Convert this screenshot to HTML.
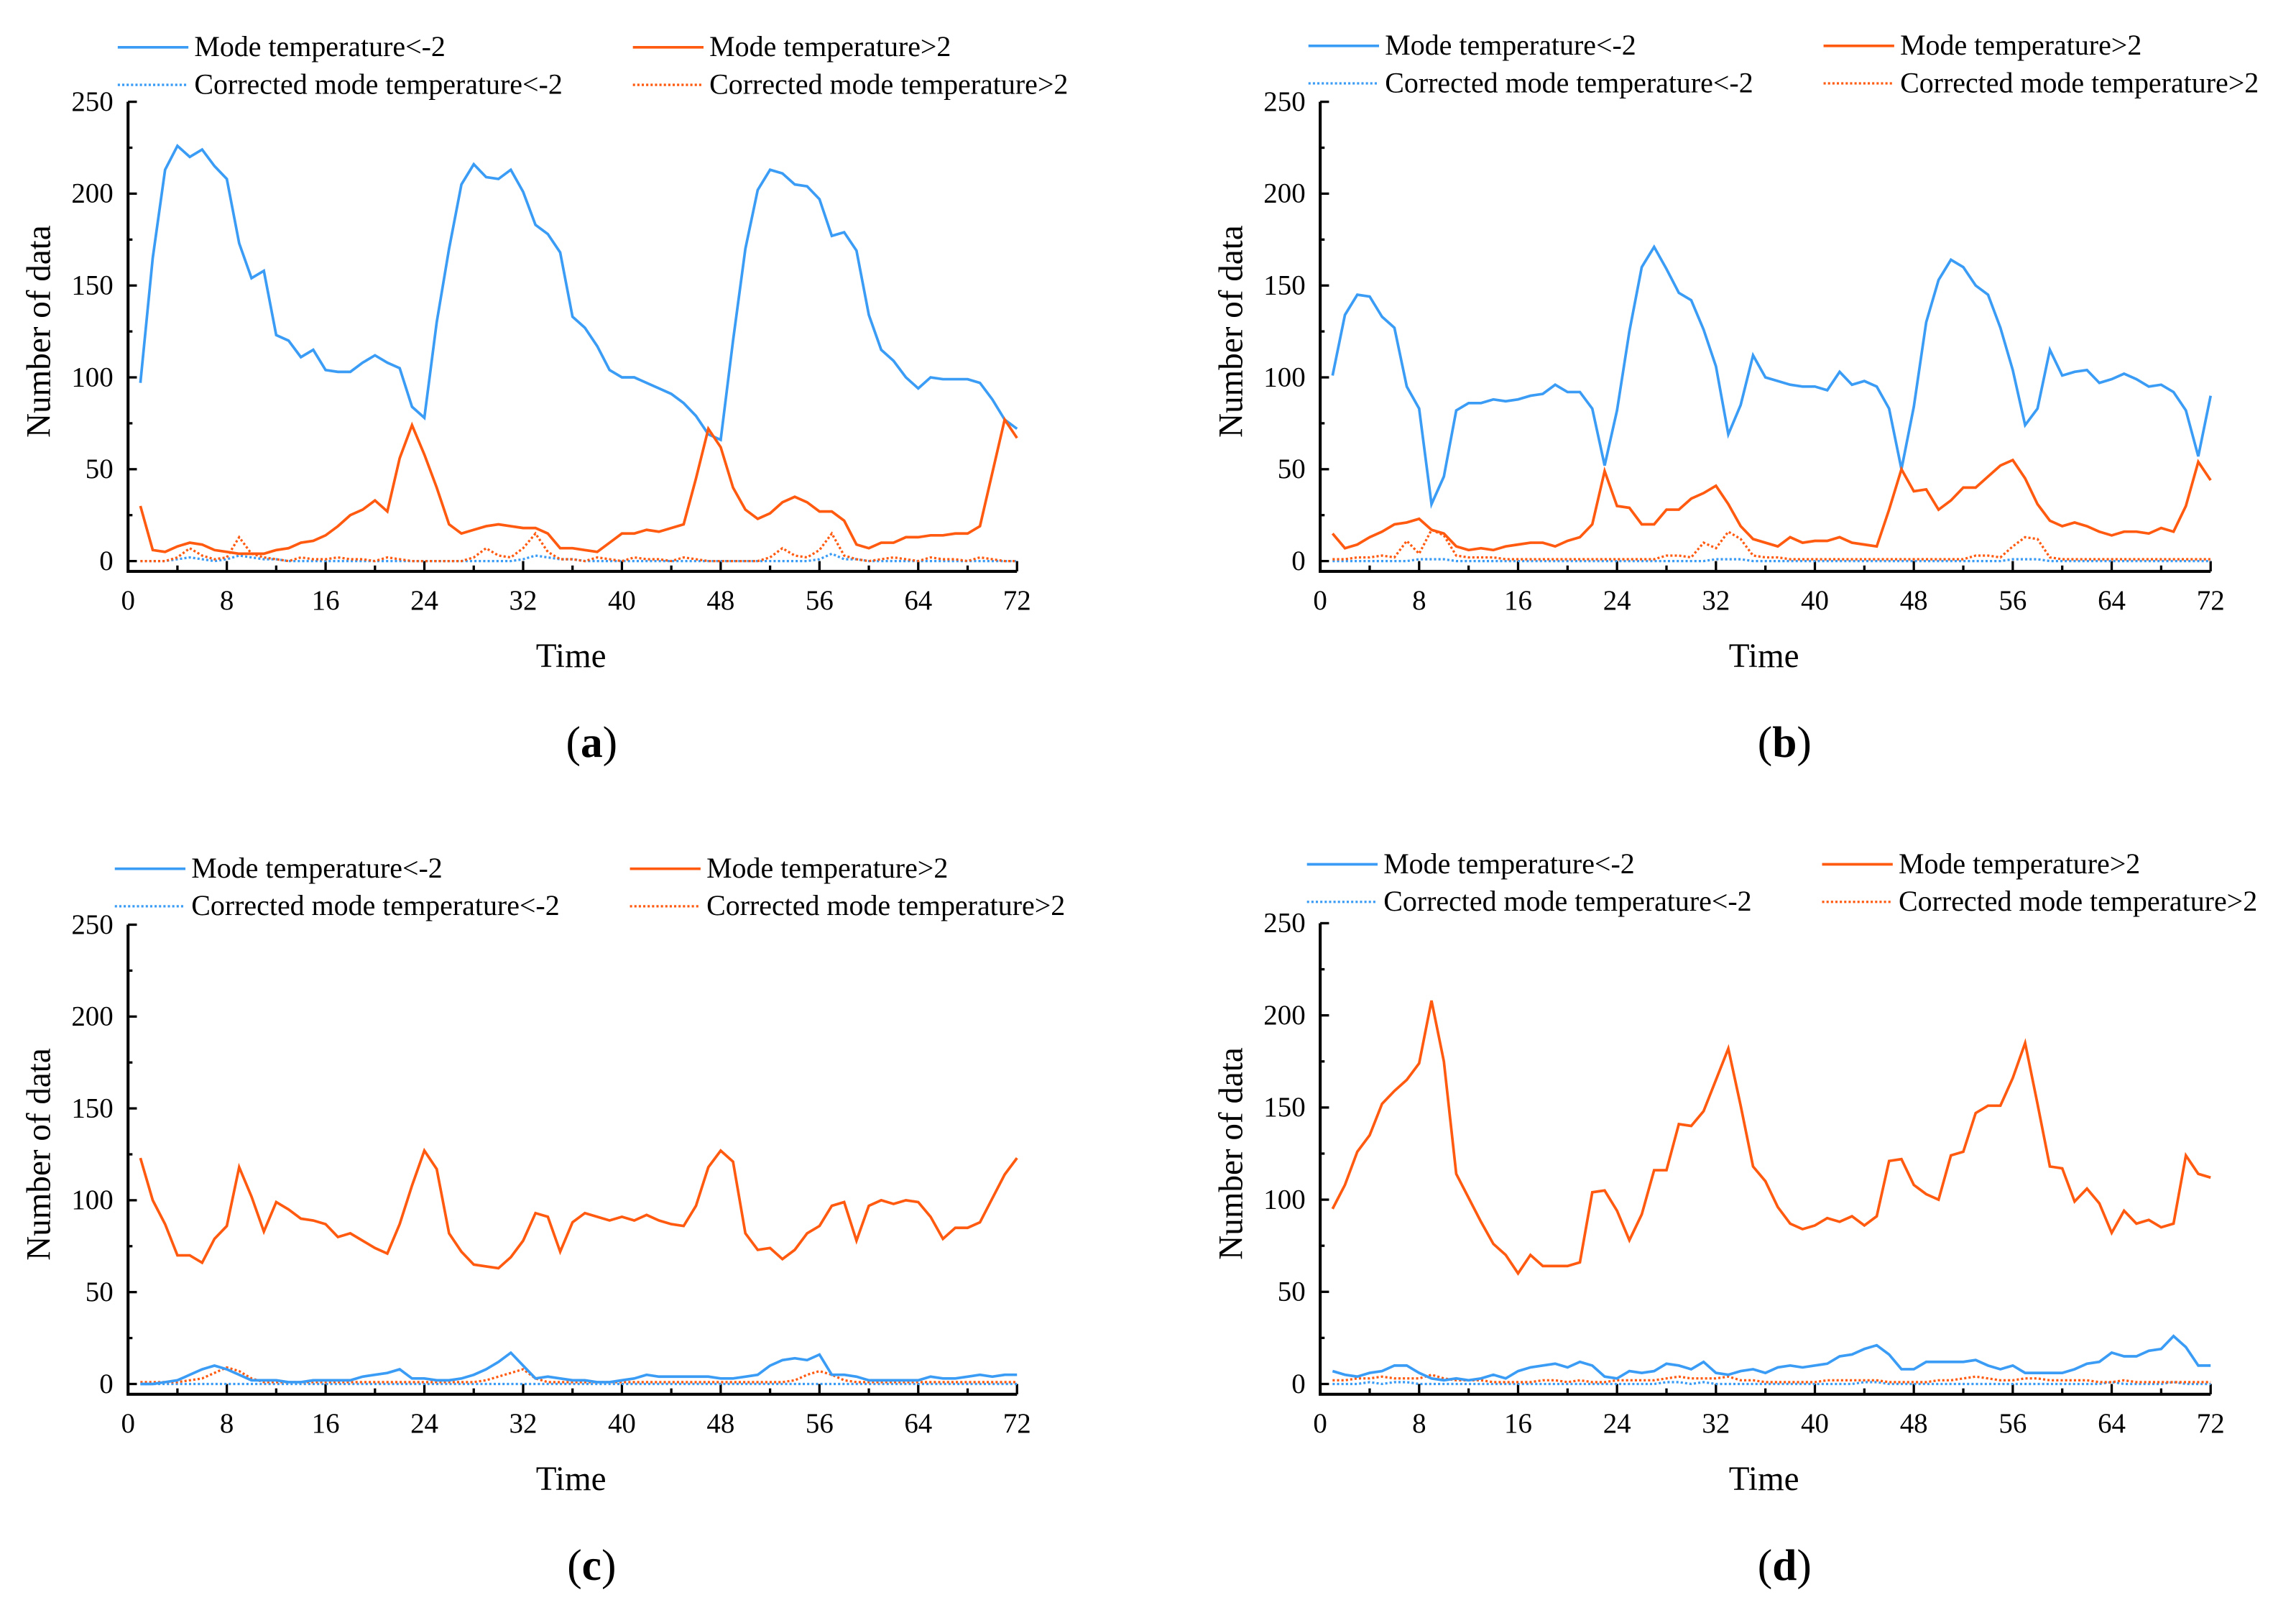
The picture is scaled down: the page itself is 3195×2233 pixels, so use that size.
<!DOCTYPE html>
<html><head><meta charset="utf-8">
<style>
html,body{margin:0;padding:0;background:#fff;}
svg{display:block;}
svg text{font-family:"Liberation Serif","Times New Roman","DejaVu Serif",serif;}
</style></head>
<body>
<svg id="fig" width="3195" height="2233" viewBox="0 0 1560 1090" font-family="Liberation Serif, serif" xmlns="http://www.w3.org/2000/svg"></svg>
<script>
const timeCategories = Array.from({length:72},(_,i)=>i+1);
const xTicks = [0,8,16,24,32,40,48,56,64,72];
const yTicks = [0,50,100,150,200,250];

const aBlue = [97,165,213,226,220,224,215,208,173,154,158,123,120,111,115,104,103,103,108,112,108,105,84,78,130,170,205,216,209,208,213,201,183,178,168,133,127,117,104,100,100,97,94,91,86,79,69,66,120,170,202,213,211,205,204,197,177,179,169,134,115,109,100,94,100,99,99,99,97,88,77,72];
const aOrange = [30,6,5,8,10,9,6,5,4,4,4,6,7,10,11,14,19,25,28,33,27,56,74,58,40,20,15,17,19,20,19,18,18,15,7,7,6,5,10,15,15,17,16,18,20,45,72,62,40,28,23,26,32,35,32,27,27,22,9,7,10,10,13,13,14,14,15,15,19,48,77,67];
const aCorrBlue = [0,0,0,1,2,1,0,1,3,2,1,1,0,0,0,0,0,0,0,0,0,0,0,0,0,0,0,0,0,0,0,1,3,2,1,1,0,0,0,0,0,0,0,0,0,0,0,0,0,0,0,0,0,0,0,1,4,1,1,0,0,0,0,0,0,0,0,0,0,0,0,0];
const aCorrOrange = [0,0,0,2,7,3,1,2,13,4,2,1,0,2,1,1,2,1,1,0,2,1,0,0,0,0,0,2,7,3,2,7,15,5,1,1,0,2,1,0,2,1,1,0,2,1,0,0,0,0,0,2,7,3,2,6,15,3,1,0,1,2,1,0,2,1,1,0,2,1,0,0];

const bBlue = [101,134,145,144,133,127,95,83,31,46,82,86,86,88,87,88,90,91,96,92,92,83,52,82,125,160,171,159,146,142,126,106,69,85,112,100,98,96,95,95,93,103,96,98,95,83,50,84,130,153,164,160,150,145,127,104,74,83,115,101,103,104,97,99,102,99,95,96,92,82,57,90];
const bOrange = [15,7,9,13,16,20,21,23,17,15,8,6,7,6,8,9,10,10,8,11,13,20,49,30,29,20,20,28,28,34,37,41,31,19,12,10,8,13,10,11,11,13,10,9,8,28,50,38,39,28,33,40,40,46,52,55,45,31,22,19,21,19,16,14,16,16,15,18,16,30,54,44];
const bCorrBlue = [0,0,0,0,0,0,0,1,1,1,0,0,0,0,0,0,0,0,0,0,0,0,0,0,0,0,0,0,0,0,0,1,1,1,0,0,0,0,0,0,0,0,0,0,0,0,0,0,0,0,0,0,0,0,0,1,1,1,0,0,0,0,0,0,0,0,0,0,0,0,0,0];
const bCorrOrange = [1,1,2,2,3,2,11,4,17,14,3,2,2,2,1,1,1,1,1,1,1,1,1,1,1,1,1,3,3,2,10,7,16,12,3,2,2,1,1,1,1,1,1,1,1,1,1,1,1,1,1,1,3,3,2,8,13,12,2,1,1,1,1,1,1,1,1,1,1,1,1,1];

const cBlue = [0,0,1,2,5,8,10,8,5,2,2,2,1,1,2,2,2,2,4,5,6,8,3,3,2,2,3,5,8,12,17,10,3,4,3,2,2,1,1,2,3,5,4,4,4,4,4,3,3,4,5,10,13,14,13,16,5,5,4,2,2,2,2,2,4,3,3,4,5,4,5,5];
const cOrange = [123,100,87,70,70,66,79,86,118,102,83,99,95,90,89,87,80,82,78,74,71,87,108,127,117,82,72,65,64,63,69,78,93,91,72,88,93,91,89,91,89,92,89,87,86,97,118,127,121,82,73,74,68,73,82,86,97,99,78,97,100,98,100,99,91,79,85,85,88,101,114,123];
const cCorrBlue = [0,0,0,0,0,0,0,0,0,0,0,0,0,0,0,0,0,0,0,0,0,0,0,0,0,0,0,0,0,0,0,0,0,0,0,0,0,0,0,0,0,0,0,0,0,0,0,0,0,0,0,0,0,0,0,0,0,0,0,0,0,0,0,0,0,0,0,0,0,0,0,0];
const cCorrOrange = [1,1,1,1,2,3,6,9,7,3,1,1,1,1,1,1,1,1,1,1,1,1,1,1,1,1,1,1,2,4,6,8,3,1,1,1,1,1,1,1,1,1,1,1,1,1,1,1,1,1,1,1,1,2,5,7,5,2,1,1,1,1,1,1,1,1,1,1,1,1,1,1];

const dBlue = [7,5,4,6,7,10,10,6,3,2,3,2,3,5,3,7,9,10,11,9,12,10,4,3,7,6,7,11,10,8,12,6,5,7,8,6,9,10,9,10,11,15,16,19,21,16,8,8,12,12,12,12,13,10,8,10,6,6,6,6,8,11,12,17,15,15,18,19,26,20,10,10];
const dOrange = [95,108,126,135,152,159,165,174,208,175,114,101,88,76,70,60,70,64,64,64,66,104,105,94,78,92,116,116,141,140,148,165,182,151,118,110,96,87,84,86,90,88,91,86,91,121,122,108,103,100,124,126,147,151,151,166,185,152,118,117,99,106,98,82,94,87,89,85,87,124,114,112];
const dCorrBlue = [0,0,0,1,0,1,1,0,0,0,0,0,0,0,0,0,0,0,0,0,0,0,0,0,0,0,0,1,1,0,1,0,0,0,0,0,0,0,0,0,0,0,0,1,1,0,0,0,0,0,0,0,0,0,0,0,0,0,0,0,0,0,0,1,0,0,0,0,1,0,0,0];
const dCorrOrange = [2,2,3,3,4,3,3,3,5,3,2,2,2,1,1,1,1,2,2,1,2,1,1,2,2,2,2,3,4,3,3,3,4,2,2,1,1,1,1,1,2,2,2,2,2,1,1,1,1,2,2,3,4,3,2,2,3,3,2,2,2,2,1,1,2,1,1,1,1,1,1,1];

const NS="http://www.w3.org/2000/svg";
const svg=document.getElementById('fig');
const BLUE="#3b9cf5", ORANGE="#ff5a0f";
const FONT='"Liberation Serif", serif';
function el(tag,attrs,parent,text){const e=document.createElementNS(NS,tag);for(const k in attrs)e.setAttribute(k,attrs[k]);if(tag==='text')e.style.fontFamily=FONT;if(text!==undefined)e.textContent=text;(parent||svg).appendChild(e);return e;}

const panels=[
 {id:'a',left:87,right:691,y0:381,y250:69,axisY:388,legY:32,legX:80,series:[aBlue,aOrange,aCorrBlue,aCorrOrange]},
 {id:'b',left:897,right:1502,y0:381,y250:69,axisY:388,legY:31,legX:889,series:[bBlue,bOrange,bCorrBlue,bCorrOrange]},
 {id:'c',left:87,right:691,y0:940,y250:628,axisY:947,legY:590,legX:78,series:[cBlue,cOrange,cCorrBlue,cCorrOrange]},
 {id:'d',left:897,right:1502,y0:940,y250:627,axisY:947,legY:587,legX:888,series:[dBlue,dOrange,dCorrBlue,dCorrOrange]}
];

panels.forEach(p=>{
 const g=el('g',{});
 
 
 const xs=t=>p.left+(p.right-p.left)*t/72;
 const ys=v=>p.y0-(p.y0-p.y250)*v/250;
 const ax=el('path',{d:`M${p.left} ${p.y250}V${p.axisY}H${p.right}`,stroke:'#000','stroke-width':2,fill:'none'},g);
 
 
 for(let v=0;v<=250;v+=25){
  const major=v%50===0;
  el('line',{x1:p.left,x2:p.left+(major?6:3),y1:ys(v),y2:ys(v),stroke:'#000','stroke-width':1.6},g);
 }
 yTicks.forEach(v=>{
  const t=el('text',{x:p.left-10,y:ys(v)+6,'text-anchor':'end','font-size':19},g,String(v));
  
  
 });
 for(let v=0;v<=72;v+=4){
  const major=v%8===0;
  el('line',{x1:xs(v),x2:xs(v),y1:p.axisY,y2:p.axisY-(major?7:4),stroke:'#000','stroke-width':1.6},g);
 }
 xTicks.forEach(v=>{
  const t=el('text',{x:xs(v),y:p.axisY+26,'text-anchor':'middle','font-size':19},g,String(v));
  
  
 });
 const yt=el('text',{x:0,y:0,transform:`translate(${p.left-53},${(p.y0+p.y250)/2}) rotate(-90)`,'text-anchor':'middle','font-size':23},g,'Number of data');
 
 
 const xt=el('text',{x:(p.left+p.right)/2-1,y:p.axisY+65,'text-anchor':'middle','font-size':23},g,'Time');
 
 
 const cap=el('text',{x:(p.left+p.right)/2+13,y:p.axisY+126,'text-anchor':'middle','font-size':30},g);
 
 
 el('tspan',{},cap,'(');el('tspan',{'font-weight':'bold'},cap,p.id);el('tspan',{},cap,')');
 const styles=[[BLUE,''],[ORANGE,''],[BLUE,'1.5 1.5'],[ORANGE,'1.5 1.5']];
 const names=['mode-temp-below-minus2-line','mode-temp-above-2-line','corrected-below-minus2-line','corrected-above-2-line'];
 [2,3,0,1].forEach(i=>{
  const d=p.series[i].map((v,k)=>(k?'L':'M')+xs(timeCategories[k]).toFixed(2)+' '+ys(v).toFixed(2)).join('');
  const path=el('path',{d,stroke:styles[i][0],'stroke-width':i<2?1.8:1.6,fill:'none','stroke-dasharray':styles[i][1]||'none'},g);
  
  
 });
 const labels=['Mode temperature<-2','Mode temperature>2','Corrected mode temperature<-2','Corrected mode temperature>2'];
 labels.forEach((lab,i)=>{
  const col=i%2,row=Math.floor(i/2);
  const lx=p.legX+col*350, ly=p.legY+row*25.5;
  const lg=el('g',{},g);
  
  
  el('line',{x1:lx,x2:lx+48,y1:ly,y2:ly,stroke:col?ORANGE:BLUE,'stroke-width':i<2?1.8:1.6,'stroke-dasharray':i<2?'none':'1.5 1.5'},lg);
  el('text',{x:lx+52,y:ly+6,'font-size':19.5},lg,lab);
 });
});
</script>
</body></html>
